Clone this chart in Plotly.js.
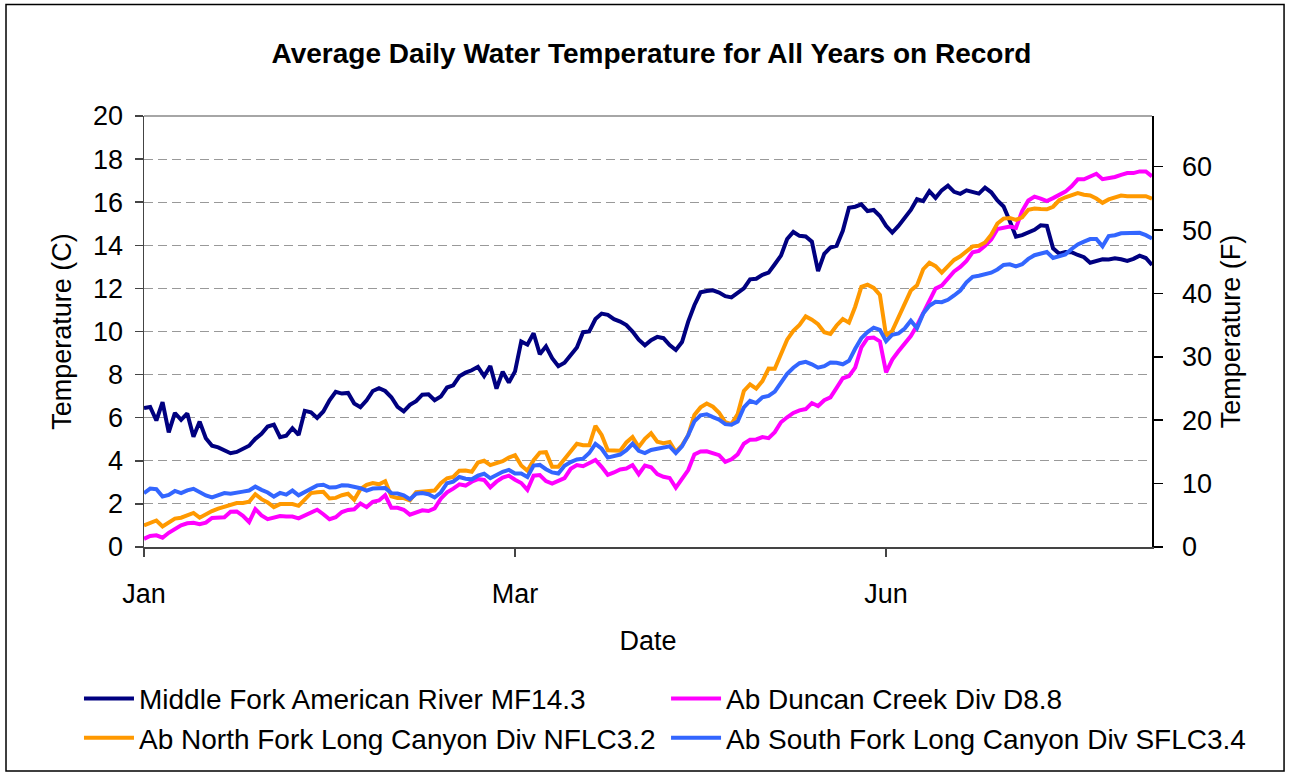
<!DOCTYPE html>
<html>
<head>
<meta charset="utf-8">
<script src="https://cdn.plot.ly/plotly-3.0.1.min.js"></script>
<style>
  html, body { margin: 0; padding: 0; background: #ffffff; }
  #chart { width: 1289px; height: 775px; }
</style>
</head>
<body>
<div id="chart"></div>
<script>
// ---- Data (degrees C, one value per category position on the x axis) ----
const tickPositions = [0, 60, 120];
const tickLabels = ['Jan', 'Mar', 'Jun'];

const seriesNames = [
  'Middle Fork American River MF14.3',
  'Ab Duncan Creek Div D8.8',
  'Ab North Fork Long Canyon Div NFLC3.2',
  'Ab South Fork Long Canyon Div SFLC3.4'
];

const middleForkMF143 = [
  6.45, 6.50, 5.87, 6.72, 5.32, 6.22, 5.90, 6.20, 5.12, 5.82,
  5.05, 4.70, 4.62, 4.49, 4.35, 4.41, 4.53, 4.70, 5.02, 5.25,
  5.59, 5.68, 5.10, 5.16, 5.51, 5.20, 6.32, 6.25, 5.99, 6.29,
  6.81, 7.20, 7.12, 7.15, 6.66, 6.49, 6.81, 7.24, 7.37, 7.24,
  6.95, 6.50, 6.29, 6.60, 6.77, 7.07, 7.09, 6.81, 6.98, 7.40,
  7.50, 7.92, 8.09, 8.20, 8.36, 7.93, 8.40, 7.35, 8.13, 7.63,
  8.15, 9.54, 9.39, 9.92, 8.95, 9.31, 8.76, 8.39, 8.55, 8.88,
  9.26, 9.97, 10.00, 10.58, 10.83, 10.77, 10.57, 10.46, 10.30, 10.00,
  9.62, 9.36, 9.60, 9.75, 9.69, 9.37, 9.14, 9.51, 10.46, 11.22,
  11.82, 11.88, 11.91, 11.81, 11.64, 11.58, 11.81, 12.00, 12.42, 12.45,
  12.63, 12.73, 13.12, 13.52, 14.29, 14.62, 14.44, 14.41, 14.17, 12.80,
  13.60, 13.90, 13.98, 14.67, 15.74, 15.79, 15.90, 15.59, 15.64, 15.36,
  14.90, 14.59, 14.90, 15.31, 15.64, 16.14, 16.05, 16.51, 16.20, 16.55,
  16.77, 16.48, 16.39, 16.55, 16.49, 16.40, 16.68, 16.46, 16.08, 15.80,
  15.13, 14.40, 14.47, 14.59, 14.72, 14.93, 14.90, 13.86, 13.61, 13.69,
  13.68, 13.55, 13.45, 13.19, 13.29, 13.35, 13.34, 13.40, 13.35, 13.28,
  13.37, 13.52, 13.41, 13.09
];

const duncanCreekD88 = [
  0.38, 0.51, 0.54, 0.43, 0.66, 0.86, 1.01, 1.10, 1.12, 1.06,
  1.13, 1.35, 1.38, 1.38, 1.64, 1.65, 1.45, 1.16, 1.76, 1.47,
  1.29, 1.35, 1.44, 1.41, 1.41, 1.33, 1.45, 1.59, 1.73, 1.52,
  1.29, 1.38, 1.62, 1.72, 1.75, 2.02, 1.85, 2.10, 2.16, 2.40,
  1.82, 1.82, 1.73, 1.50, 1.62, 1.70, 1.67, 1.79, 2.24, 2.54,
  2.71, 2.91, 2.85, 3.03, 3.15, 3.11, 2.77, 3.03, 3.22, 3.31,
  3.12, 2.97, 2.65, 3.31, 3.34, 3.06, 2.94, 3.06, 3.20, 3.63,
  3.80, 3.75, 3.90, 4.04, 3.72, 3.35, 3.46, 3.60, 3.64, 3.80,
  3.38, 3.78, 3.70, 3.38, 3.26, 3.20, 2.75, 3.19, 3.57, 4.29,
  4.43, 4.44, 4.33, 4.26, 3.95, 4.07, 4.30, 4.79, 4.98, 4.99,
  5.10, 5.05, 5.33, 5.79, 6.02, 6.22, 6.34, 6.40, 6.68, 6.54,
  6.81, 6.94, 7.38, 7.83, 7.93, 8.32, 9.26, 9.69, 9.72, 9.54,
  8.10, 8.70, 9.08, 9.43, 9.79, 10.28, 10.83, 11.47, 11.99, 12.13,
  12.48, 12.79, 13.00, 13.28, 13.68, 13.74, 13.98, 14.27, 14.75, 14.81,
  14.87, 14.81, 15.59, 16.08, 16.26, 16.17, 16.05, 16.19, 16.36, 16.49,
  16.74, 17.06, 17.06, 17.20, 17.32, 17.07, 17.12, 17.17, 17.27, 17.35,
  17.35, 17.43, 17.43, 17.20
];

const northForkNFLC32 = [
  1.00, 1.12, 1.23, 0.95, 1.12, 1.32, 1.36, 1.49, 1.58, 1.36,
  1.52, 1.67, 1.78, 1.87, 1.94, 2.04, 2.04, 2.10, 2.45, 2.22,
  2.07, 1.85, 1.99, 1.98, 1.99, 1.91, 2.22, 2.50, 2.54, 2.56,
  2.25, 2.28, 2.40, 2.47, 2.19, 2.68, 2.88, 2.97, 2.91, 3.05,
  2.35, 2.27, 2.27, 2.16, 2.54, 2.57, 2.57, 2.62, 2.96, 3.19,
  3.25, 3.54, 3.55, 3.49, 3.92, 4.00, 3.80, 3.87, 3.98, 4.15,
  4.26, 3.78, 3.54, 4.03, 4.38, 4.40, 3.72, 3.72, 4.09, 4.46,
  4.79, 4.72, 4.72, 5.62, 5.20, 4.49, 4.50, 4.47, 4.85, 5.10,
  4.64, 5.02, 5.28, 4.89, 4.82, 4.87, 4.41, 4.72, 5.18, 6.13,
  6.48, 6.66, 6.51, 6.23, 5.79, 5.70, 6.17, 7.24, 7.55, 7.35,
  7.70, 8.28, 8.27, 9.00, 9.62, 10.03, 10.31, 10.70, 10.55, 10.34,
  9.97, 9.89, 10.28, 10.58, 10.41, 11.15, 12.07, 12.17, 12.02, 11.70,
  9.80, 10.03, 10.69, 11.30, 11.90, 12.14, 12.89, 13.19, 13.03, 12.73,
  13.02, 13.32, 13.49, 13.74, 13.95, 13.98, 14.13, 14.49, 15.01, 15.24,
  15.27, 15.18, 15.30, 15.65, 15.71, 15.68, 15.67, 15.79, 16.09, 16.23,
  16.34, 16.42, 16.35, 16.31, 16.17, 15.97, 16.13, 16.22, 16.31, 16.28,
  16.28, 16.28, 16.28, 16.16
];

const southForkSFLC34 = [
  2.50, 2.71, 2.68, 2.34, 2.42, 2.60, 2.50, 2.63, 2.70, 2.53,
  2.39, 2.30, 2.39, 2.50, 2.47, 2.50, 2.57, 2.62, 2.80, 2.65,
  2.53, 2.34, 2.51, 2.43, 2.62, 2.40, 2.56, 2.68, 2.86, 2.89,
  2.76, 2.77, 2.86, 2.85, 2.80, 2.73, 2.62, 2.71, 2.73, 2.74,
  2.50, 2.48, 2.40, 2.22, 2.47, 2.50, 2.45, 2.30, 2.53, 2.96,
  3.03, 3.25, 3.17, 3.14, 3.31, 3.40, 3.19, 3.34, 3.49, 3.58,
  3.41, 3.41, 3.25, 3.78, 3.81, 3.61, 3.46, 3.41, 3.77, 3.94,
  4.06, 4.10, 4.36, 4.78, 4.56, 4.15, 4.24, 4.29, 4.49, 4.79,
  4.46, 4.36, 4.50, 4.56, 4.64, 4.67, 4.36, 4.67, 5.19, 5.83,
  6.11, 6.16, 6.03, 5.91, 5.70, 5.67, 5.82, 6.48, 6.78, 6.68,
  6.95, 7.01, 7.21, 7.60, 8.04, 8.32, 8.53, 8.59, 8.48, 8.32,
  8.39, 8.56, 8.55, 8.48, 8.64, 9.20, 9.69, 9.97, 10.18, 10.08,
  9.55, 9.85, 9.91, 10.14, 10.50, 10.15, 10.83, 11.19, 11.38, 11.36,
  11.47, 11.67, 11.90, 12.28, 12.54, 12.59, 12.66, 12.73, 12.88, 13.09,
  13.12, 13.02, 13.12, 13.37, 13.54, 13.61, 13.69, 13.41, 13.51, 13.58,
  13.83, 14.04, 14.17, 14.29, 14.29, 13.95, 14.43, 14.47, 14.56, 14.56,
  14.55, 14.58, 14.47, 14.32
];

const rightAxisTicks = [0, 10, 20, 30, 40, 50, 60];

// ---- Build chart ----
const seriesValues = [middleForkMF143, duncanCreekD88, northForkNFLC32, southForkSFLC34];
const seriesColors = ['#000080', '#FF00FF', '#FF9900', '#3366FF'];
const seriesLegend = ['legend', 'legend2', 'legend', 'legend2'];
const positions = middleForkMF143.map(function (_, i) { return i; });

const FONT = 'Liberation Sans, Arial, sans-serif';

const traces = seriesValues.map(function (vals, k) {
  return {
    type: 'scatter',
    mode: 'lines',
    name: seriesNames[k],
    legend: seriesLegend[k],
    x: positions,
    y: vals,
    line: { color: seriesColors[k], width: 4 },
    hoverinfo: 'skip'
  };
});

const legendFont = { family: FONT, size: 28, color: '#000000' };
const tickFont = { family: FONT, size: 27, color: '#000000' };
const axisTitleFont = { family: FONT, size: 27, color: '#000000' };

const layout = {
  width: 1289,
  height: 775,
  margin: { l: 144, r: 137, t: 116, b: 224, pad: 0 },
  paper_bgcolor: '#ffffff',
  plot_bgcolor: '#ffffff',
  font: { family: FONT, color: '#000000', size: 27 },
  showlegend: true,
  title: {
    text: 'Average Daily Water Temperature for All Years on Record',
    font: { family: FONT, size: 28, color: '#000000', weight: 700 },
    x: 0.5054, xref: 'container', xanchor: 'center',
    y: 0.932, yref: 'container', yanchor: 'middle'
  },
  xaxis: {
    range: [0, positions.length - 1],
    tickmode: 'array',
    tickvals: tickPositions,
    ticktext: tickLabels,
    ticks: 'outside', ticklen: 8, tickwidth: 1.5, tickcolor: '#444444',
    showline: true, linecolor: '#444444', linewidth: 1.5,
    showgrid: false, zeroline: false,
    tickfont: tickFont,
    ticklabelstandoff: 14,
    title: { text: 'Date', font: axisTitleFont, standoff: 23 }
  },
  yaxis: {
    range: [0, 20], tick0: 0, dtick: 2,
    ticks: 'outside', ticklen: 8, tickwidth: 1.5, tickcolor: '#444444',
    showline: true, linecolor: '#444444', linewidth: 1.5,
    showgrid: true, gridcolor: '#999999', gridwidth: 1, griddash: '9px,5px',
    zeroline: false,
    tickfont: tickFont,
    ticklabelstandoff: 6,
    title: { text: 'Temperature (C)', font: axisTitleFont, standoff: 13 }
  },
  yaxis2: {
    overlaying: 'y', side: 'right', anchor: 'x',
    range: [0, 68], tickmode: 'array', tickvals: rightAxisTicks,
    ticks: 'outside', ticklen: 9, tickwidth: 1.5, tickcolor: '#000000',
    showline: true, linecolor: '#000000', linewidth: 1.5,
    showgrid: false, zeroline: false,
    tickfont: tickFont,
    ticklabelstandoff: 14,
    title: { text: 'Temperature (F)', font: axisTitleFont, standoff: 10 }
  },
  legend: {
    orientation: 'v',
    x: -0.0645, xanchor: 'left',
    y: -0.294, yanchor: 'top',
    itemwidth: 50,
    traceorder: 'normal',
    font: legendFont,
    bgcolor: 'rgba(0,0,0,0)', borderwidth: 0
  },
  legend2: {
    orientation: 'v',
    x: 0.5179, xanchor: 'left',
    y: -0.294, yanchor: 'top',
    itemwidth: 50,
    traceorder: 'normal',
    font: legendFont,
    bgcolor: 'rgba(0,0,0,0)', borderwidth: 0
  },
  shapes: [
    { type: 'line', xref: 'paper', yref: 'paper', x0: 0, x1: 1, y0: 1, y1: 1,
      line: { color: '#888888', width: 1.5 } },
    { type: 'rect', xref: 'paper', yref: 'paper',
      x0: -0.1369, x1: 1.131, y0: -0.52, y1: 1.2587,
      line: { color: '#000000', width: 1.5 }, fillcolor: 'rgba(0,0,0,0)' }
  ]
};

// ensure the secondary (Fahrenheit) axis is drawn
traces.push({ type: 'scatter', mode: 'lines', x: [], y: [], yaxis: 'y2', showlegend: false, hoverinfo: 'skip' });

Plotly.newPlot('chart', traces, layout, { staticPlot: true, displayModeBar: false });
</script>
</body>
</html>
